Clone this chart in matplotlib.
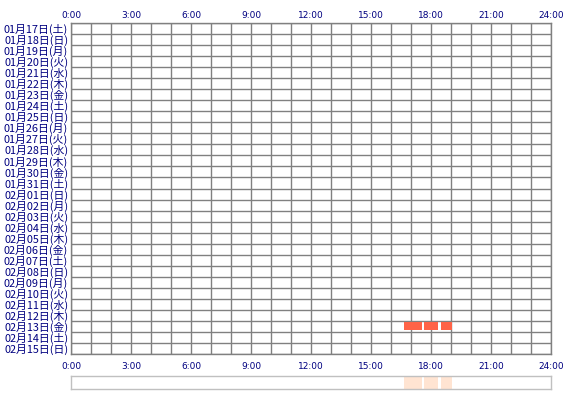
import matplotlib
matplotlib.use("Agg")
import matplotlib.pyplot as plt
import numpy as np

plt.rcParams['font.family'] = ['Noto Sans CJK JP', 'DejaVu Sans']

days = ["01月17日(土)", "01月18日(日)", "01月19日(月)", "01月20日(火)", "01月21日(水)",
        "01月22日(木)", "01月23日(金)", "01月24日(土)", "01月25日(日)", "01月26日(月)",
        "01月27日(火)", "01月28日(水)", "01月29日(木)", "01月30日(金)", "01月31日(土)",
        "02月01日(日)", "02月02日(月)", "02月03日(火)", "02月04日(水)", "02月05日(木)",
        "02月06日(金)", "02月07日(土)", "02月08日(日)", "02月09日(月)", "02月10日(火)",
        "02月11日(水)", "02月12日(木)", "02月13日(金)", "02月14日(土)", "02月15日(日)"]
tick_hours = [0, 3, 6, 9, 12, 15, 18, 21, 24]
tick_labels = ["0:00", "3:00", "6:00", "9:00", "12:00", "15:00", "18:00", "21:00", "24:00"]

# activity sessions: (day label, start hour, end hour)
session_day = ["02月13日(金)", "02月13日(金)", "02月13日(金)"]
session_start = [16.65, 17.65, 18.5]
session_end = [17.55, 18.35, 19.05]

W, H = 570, 400
fig = plt.figure(figsize=(W / 100, H / 100), dpi=100)
fig.patch.set_facecolor("white")

gx0, gx1, gy0, gy1 = 71, 551, 23, 354
ax = fig.add_axes([gx0 / W, 1 - gy1 / H, (gx1 - gx0) / W, (gy1 - gy0) / H])
n = len(days)
ax.set_xlim(0, 24)
ax.set_ylim(n, 0)

grid_col = "#808080"
for h in range(25):
    ax.axvline(h, color=grid_col, lw=1.0, zorder=1)
for r in range(n + 1):
    ax.axhline(r, color=grid_col, lw=1.0, zorder=1)
for s in ax.spines.values():
    s.set_color(grid_col)
    s.set_linewidth(1.0)

for d, s0, s1 in zip(session_day, session_start, session_end):
    r = days.index(d)
    ax.barh(r + 0.5, s1 - s0, left=s0, height=0.72, color="#FF6347", zorder=2)

navy = "#000080"
ax.set_xticks(tick_hours)
ax.set_xticklabels(tick_labels, fontsize=6.5, color=navy, family=['DejaVu Sans'])
ax.tick_params(axis='x', length=0, labeltop=False, labelbottom=True, pad=6)
top = ax.secondary_xaxis('top')
top.set_xticks(tick_hours)
top.set_xticklabels(tick_labels, fontsize=6.5, color=navy, family=['DejaVu Sans'])
top.tick_params(axis='x', length=0, pad=1.8)
top.spines['top'].set_visible(False)
ax.set_yticks(np.arange(n) + 0.5)
ax.set_yticklabels(days, fontsize=7.8, color=navy)
ax.tick_params(axis='y', length=0, pad=2)

# summary strip
sx = fig.add_axes([gx0 / W, 1 - 389 / H, (gx1 - gx0) / W, 13 / H])
sx.set_xlim(0, 24)
sx.set_ylim(0, 1)
for s0, s1 in zip(session_start, session_end):
    sx.barh(0.5, s1 - s0, left=s0, height=1.0, color="#FFE4D2", zorder=1)
for s in sx.spines.values():
    s.set_color("#C0C0C0")
    s.set_linewidth(1.0)
sx.set_xticks([])
sx.set_yticks([])

fig.savefig("out.png", dpi=100)
